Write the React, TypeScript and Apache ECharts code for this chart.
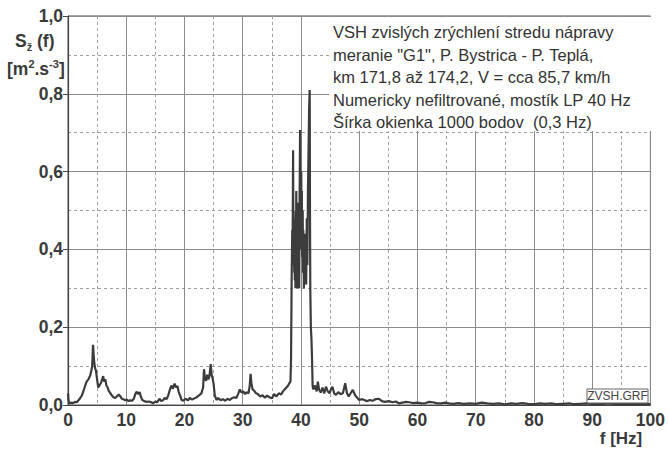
import React, { useEffect, useRef } from "react";
import * as echarts from "echarts";

// Spectral density S(f): [frequency Hz, value m^2.s^-3]
const lowBand: [number, number][] = [
  [0, 0.03], [0.1, 0.012], [0.3, 0.004], [0.6, 0.006], [0.9, 0.005], [1.2, 0.008], [1.5, 0.007],
  [1.8, 0.012], [2.1, 0.018], [2.4, 0.025], [2.7, 0.038], [3.0, 0.052], [3.2, 0.06], [3.5, 0.066],
  [3.8, 0.075], [4.0, 0.088], [4.15, 0.1], [4.3, 0.155], [4.4, 0.13], [4.5, 0.11], [4.65, 0.095],
  [4.8, 0.088], [5.0, 0.065], [5.2, 0.045], [5.4, 0.05], [5.7, 0.058], [5.9, 0.068], [6.05, 0.074],
  [6.2, 0.06], [6.4, 0.066], [6.6, 0.05], [6.8, 0.045], [7.0, 0.036], [7.3, 0.03], [7.5, 0.025],
  [7.8, 0.02], [8.1, 0.018], [8.4, 0.022], [8.7, 0.027], [8.9, 0.024], [9.2, 0.017], [9.5, 0.015],
  [9.8, 0.012], [10.1, 0.014], [10.4, 0.01], [10.7, 0.012], [11.0, 0.011], [11.3, 0.016], [11.6, 0.03],
  [11.8, 0.034], [12.0, 0.028], [12.3, 0.033], [12.5, 0.022], [12.8, 0.012], [13.1, 0.01], [13.5, 0.008],
  [13.9, 0.009], [14.3, 0.007], [14.6, 0.004], [15.0, 0.009], [15.3, 0.007], [15.7, 0.016], [16.0, 0.01],
  [16.3, 0.012], [16.6, 0.018], [16.9, 0.015], [17.2, 0.024], [17.5, 0.04], [17.75, 0.05], [18.0, 0.042],
  [18.3, 0.055], [18.5, 0.046], [18.8, 0.048], [19.0, 0.034], [19.3, 0.022], [19.5, 0.013], [19.8, 0.011],
  [20.2, 0.016], [20.6, 0.012], [20.9, 0.018], [21.3, 0.014], [21.7, 0.017], [22.1, 0.02], [22.6, 0.026],
  [22.9, 0.03], [23.2, 0.045], [23.35, 0.092], [23.5, 0.07], [23.7, 0.062], [23.9, 0.078], [24.1, 0.066],
  [24.3, 0.075], [24.5, 0.105], [24.65, 0.08], [24.8, 0.07], [25.0, 0.055], [25.2, 0.025], [25.5, 0.013],
  [25.8, 0.018], [26.2, 0.012], [26.6, 0.015], [27.0, 0.011], [27.4, 0.016], [27.8, 0.013], [28.2, 0.018],
  [28.6, 0.02], [28.9, 0.018], [29.2, 0.028], [29.5, 0.04], [29.8, 0.032], [30.1, 0.035], [30.4, 0.028],
  [30.7, 0.033], [31.0, 0.03], [31.2, 0.05], [31.35, 0.08], [31.5, 0.055], [31.7, 0.04], [32.0, 0.036],
  [32.3, 0.03], [32.6, 0.028], [33.0, 0.022], [33.4, 0.025], [33.8, 0.019], [34.2, 0.024], [34.6, 0.02],
  [35.0, 0.017], [35.4, 0.028], [35.8, 0.022], [36.2, 0.03], [36.6, 0.027], [36.9, 0.035], [37.2, 0.04],
  [37.5, 0.045], [37.8, 0.05], [38.0, 0.056], [38.2, 0.06],
];

const peakBand: [number, number][] = [
  [38.3, 0.12], [38.4, 0.32], [38.5, 0.45], [38.55, 0.38], [38.6, 0.5], [38.65, 0.655], [38.7, 0.42],
  [38.75, 0.36], [38.8, 0.48], [38.85, 0.34], [38.9, 0.44], [38.95, 0.32], [39.0, 0.46], [39.05, 0.3],
  [39.1, 0.5], [39.15, 0.38], [39.2, 0.55], [39.25, 0.34], [39.3, 0.47], [39.35, 0.3], [39.4, 0.42],
  [39.45, 0.36], [39.5, 0.52], [39.55, 0.33], [39.6, 0.45], [39.7, 0.3], [39.75, 0.5], [39.8, 0.6],
  [39.85, 0.707], [39.9, 0.5], [39.95, 0.58], [40.0, 0.4], [40.05, 0.6], [40.1, 0.42], [40.15, 0.55],
  [40.2, 0.38], [40.3, 0.5], [40.35, 0.34], [40.4, 0.45], [40.5, 0.3], [40.55, 0.42], [40.6, 0.31],
  [40.7, 0.44], [40.75, 0.35], [40.8, 0.4], [40.9, 0.31], [41.0, 0.48], [41.1, 0.36], [41.2, 0.55],
  [41.3, 0.65], [41.4, 0.76], [41.5, 0.81], [41.55, 0.5], [41.6, 0.3], [41.7, 0.2], [41.8, 0.17],
  [41.9, 0.12], [42.0, 0.05],
];

const tailBand: [number, number][] = [
  [42.1, 0.04], [42.4, 0.05], [42.7, 0.035], [42.9, 0.06], [43.1, 0.04], [43.4, 0.032], [43.7, 0.045],
  [44.0, 0.03], [44.3, 0.047], [44.6, 0.035], [44.9, 0.03], [45.2, 0.042], [45.4, 0.047], [45.7, 0.03],
  [46.0, 0.026], [46.4, 0.033], [46.8, 0.028], [47.2, 0.03], [47.6, 0.056], [47.9, 0.03], [48.2, 0.022],
  [48.6, 0.032], [48.9, 0.039], [49.3, 0.025], [49.7, 0.018], [50.0, 0.013], [50.5, 0.015], [51.0, 0.012],
  [51.4, 0.01], [51.8, 0.013], [52.3, 0.011], [52.8, 0.015], [53.4, 0.016], [53.9, 0.01], [54.4, 0.008],
  [55.1, 0.01], [55.7, 0.007], [56.3, 0.009], [56.8, 0.004], [57.4, 0.006], [58.0, 0.008], [58.6, 0.007],
  [59.3, 0.005], [60.0, 0.006], [60.7, 0.004], [61.4, 0.005], [62.0, 0.008], [62.6, 0.007], [63.3, 0.005],
  [64.0, 0.004], [64.8, 0.006], [65.4, 0.004], [66.2, 0.003], [67.0, 0.005], [68.0, 0.003], [69.0, 0.004],
  [70.0, 0.003], [71.0, 0.006], [72.0, 0.004], [73.0, 0.003], [74.0, 0.004], [75.0, 0.002], [76.0, 0.004],
  [77.0, 0.003], [78.0, 0.005], [79.0, 0.003], [80.0, 0.002], [81.0, 0.004], [82.0, 0.003], [83.0, 0.004],
  [84.0, 0.002], [85.0, 0.003], [86.0, 0.004], [87.0, 0.002], [88.0, 0.003], [89.0, 0.004], [90.0, 0.003],
  [91.0, 0.002], [92.0, 0.003], [93.0, 0.004], [94.0, 0.002], [95.0, 0.003], [96.0, 0.002], [97.0, 0.003],
  [98.0, 0.002], [99.0, 0.003], [100.0, 0.002],
];

const infoLines = [
  "VSH zvislých zrýchlení stredu nápravy",
  'meranie "G1", P. Bystrica - P. Teplá,',
  "km 171,8 až 174,2, V = cca 85,7 km/h",
  "Numericky nefiltrované, mostík LP 40 Hz",
  "Šírka okienka 1000 bodov  (0,3 Hz)",
];

const fileTag = "ZVSH.GRF";
const xTitle = "f [Hz]";

const FONT = "'Liberation Sans', Arial, sans-serif";
const INK = "#3a3a3a";

export default function App() {
  const ref = useRef<HTMLDivElement>(null);

  useEffect(() => {
    if (!ref.current) return;
    const chart = echarts.init(ref.current, null, { renderer: "svg" });
    const data = [...lowBand, ...peakBand, ...tailBand];

    chart.setOption({
      animation: false,
      backgroundColor: "#ffffff",
      grid: {
        left: 68,
        right: 16,
        top: 16,
        bottom: 44,
        show: true,
        borderColor: "#555",
        borderWidth: 1,
      },
      xAxis: {
        type: "value",
        min: 0,
        max: 100,
        interval: 10,
        axisLine: { show: true, lineStyle: { color: "#444", width: 1.2 } },
        axisTick: { show: false },
        axisLabel: {
          margin: 6,
          color: INK,
          fontFamily: FONT,
          fontWeight: "bold",
          fontSize: 17.5,
          formatter: (v: number) => String(v),
        },
        splitLine: { show: true, lineStyle: { color: "#8a8a8a", width: 1 } },
        minorTick: { show: false, splitNumber: 2 },
        minorSplitLine: { show: true, lineStyle: { color: "#a0a0a0", type: [3, 3], width: 1 } },
      },
      yAxis: {
        type: "value",
        min: 0,
        max: 1,
        interval: 0.2,
        axisLine: { show: true, lineStyle: { color: "#444", width: 1.2 } },
        axisTick: { show: true, length: 5, lineStyle: { color: "#444" } },
        axisLabel: {
          margin: 5,
          color: INK,
          fontFamily: FONT,
          fontWeight: "bold",
          fontSize: 17.5,
          formatter: (v: number) => v.toFixed(1).replace(".", ","),
        },
        splitLine: { show: true, lineStyle: { color: "#8a8a8a", width: 1 } },
        minorTick: { show: false, splitNumber: 2 },
        minorSplitLine: { show: true, lineStyle: { color: "#a0a0a0", type: [3, 3], width: 1 } },
      },
      series: [
        {
          type: "line",
          data,
          showSymbol: false,
          symbol: "none",
          lineStyle: { color: "#3c3c3c", width: 2.2 },
          z: 3,
        },
      ],
      graphic: [
        {
          type: "rect",
          shape: { x: 329, y: 17, width: 322, height: 114 },
          style: { fill: "#ffffff", stroke: "none" },
          z: 10,
        },
        ...infoLines.map((t, i) => ({
          type: "text",
          x: 333,
          y: 32 + i * 22.5,
          z: 11,
          style: {
            text: t,
            fill: "#333",
            font: `16.5px ${FONT}`,
            verticalAlign: "middle",
          },
        })),
        {
          type: "rect",
          shape: { x: 587, y: 389, width: 61, height: 14 },
          style: { fill: "#ffffff", stroke: "#666", lineWidth: 1 },
          z: 10,
        },
        {
          type: "text",
          x: 617.5,
          y: 396,
          z: 11,
          style: {
            text: fileTag,
            fill: "#444",
            font: `12px ${FONT}`,
            align: "center",
            verticalAlign: "middle",
          },
        },
        {
          type: "text",
          x: 621,
          y: 438,
          z: 11,
          style: {
            text: xTitle,
            fill: INK,
            font: `bold 17px ${FONT}`,
            align: "center",
            verticalAlign: "middle",
          },
        },
        {
          type: "text",
          x: 15,
          y: 41,
          z: 11,
          style: {
            text: "{b|S}{s|ž}{b| (f)}",
            fill: INK,
            verticalAlign: "middle",
            rich: {
              b: { font: `bold 17.5px ${FONT}`, fill: INK, lineHeight: 22, verticalAlign: "middle" },
              s: { font: `bold 11px ${FONT}`, fill: INK, lineHeight: 22, verticalAlign: "bottom" },
            },
          },
        },
        {
          type: "text",
          x: 7,
          y: 69,
          z: 11,
          style: {
            text: "{b|[m}{p|2}{b|.s}{p|-3}{b|]}",
            fill: INK,
            verticalAlign: "middle",
            rich: {
              b: { font: `bold 17.5px ${FONT}`, fill: INK, lineHeight: 22, verticalAlign: "middle" },
              p: { font: `bold 11px ${FONT}`, fill: INK, lineHeight: 22, verticalAlign: "top" },
            },
          },
        },
      ],
    });

    return () => chart.dispose();
  }, []);

  return (
    <div
      ref={ref}
      style={{ position: "fixed", left: 0, top: 0, width: 668, height: 449 }}
    />
  );
}
